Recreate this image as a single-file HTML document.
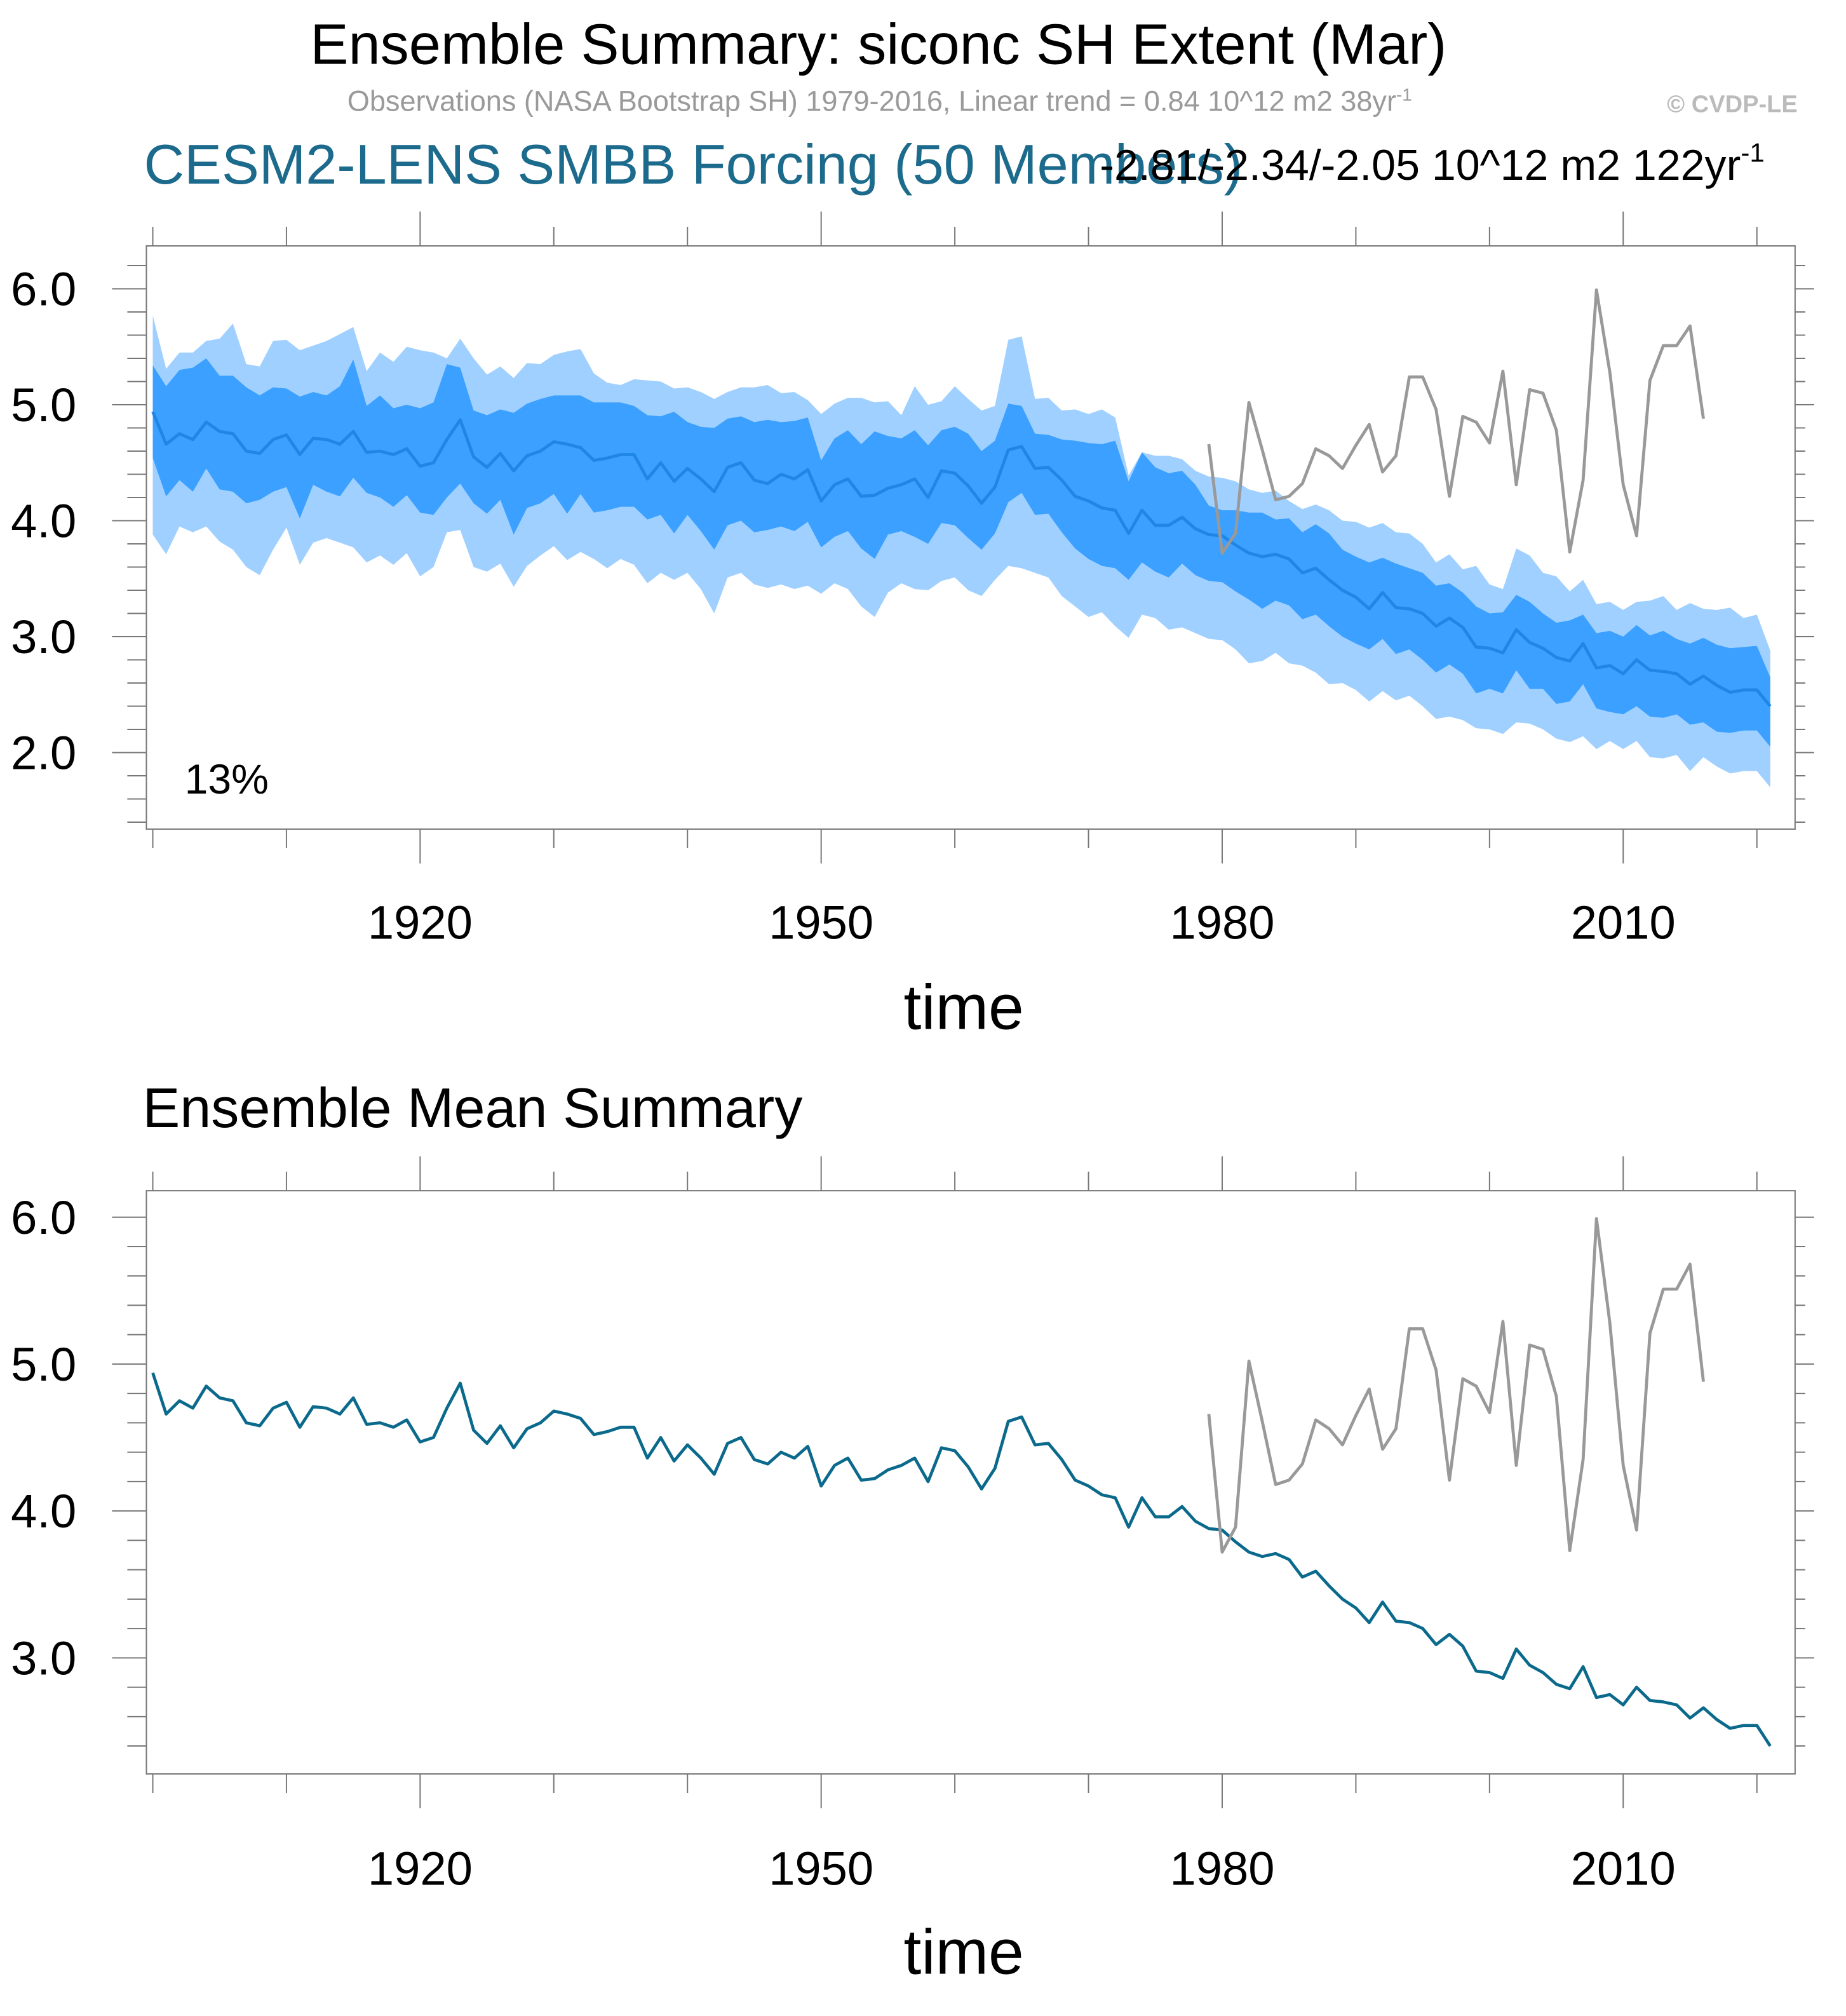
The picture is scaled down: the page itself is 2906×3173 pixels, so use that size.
<!DOCTYPE html>
<html><head><meta charset="utf-8"><style>
html,body{margin:0;padding:0;background:#fff;}
svg{display:block;font-family:"Liberation Sans",sans-serif;}
</style></head><body>
<svg id="chart" width="2906" height="3173" viewBox="0 0 1450 1583" xmlns="http://www.w3.org/2000/svg">
<text x="690" y="50" font-size="45" text-anchor="middle">Ensemble Summary: siconc SH Extent (Mar)</text>
<text x="691" y="87" font-size="22.5" fill="#9a9a9a" text-anchor="middle">Observations (NASA Bootstrap SH) 1979-2016, Linear trend = 0.84 10^12 m2 38yr<tspan dy="-8" font-size="14">-1</tspan></text>
<text x="1412" y="88" font-size="19" font-weight="bold" fill="#bbbbbb" text-anchor="end">© CVDP-LE</text>
<text x="113" y="144" font-size="44" fill="#1c6a8c">CESM2-LENS SMBB Forcing (50 Members)</text>
<text x="1386" y="141" font-size="34" text-anchor="end">-2.81/-2.34/-2.05 10^12 m2 122yr<tspan dy="-14" font-size="21">-1</tspan></text>
<text x="112" y="885" font-size="44">Ensemble Mean Summary</text>
<g id="top"></g>
<g id="bot"></g>
</svg>
<script>
const years = [];
for (let y = 1900; y <= 2021; y++) years.push(y);
const meanVals = [4.94,4.66,4.75,4.70,4.85,4.77,4.75,4.60,4.58,4.70,
4.74,4.57,4.71,4.70,4.66,4.77,4.59,4.60,4.57,4.62,
4.47,4.50,4.70,4.87,4.55,4.46,4.58,4.43,4.56,4.60,
4.68,4.66,4.63,4.52,4.54,4.57,4.57,4.36,4.50,4.34,
4.45,4.36,4.25,4.46,4.50,4.35,4.32,4.40,4.36,4.44,
4.17,4.31,4.36,4.21,4.22,4.28,4.31,4.36,4.20,4.43,
4.41,4.30,4.15,4.29,4.61,4.64,4.45,4.46,4.35,4.21,
4.17,4.11,4.09,3.89,4.09,3.96,3.96,4.03,3.93,3.88,
3.87,3.79,3.72,3.69,3.71,3.67,3.55,3.59,3.49,3.40,
3.34,3.24,3.38,3.25,3.24,3.20,3.09,3.16,3.08,2.91,
2.90,2.86,3.06,2.95,2.90,2.82,2.79,2.94,2.73,2.75,
2.68,2.80,2.71,2.70,2.68,2.59,2.66,2.58,2.52,2.54,
2.54,2.40];
const innerUp = [0.40,0.50,0.55,0.62,0.55,0.48,0.50,0.55,0.50,0.45,
0.40,0.50,0.40,0.38,0.50,0.62,0.40,0.48,0.40,0.38,
0.50,0.52,0.65,0.45,0.40,0.45,0.38,0.50,0.45,0.45,
0.40,0.42,0.45,0.50,0.48,0.45,0.42,0.55,0.40,0.60,
0.40,0.45,0.55,0.42,0.40,0.50,0.55,0.45,0.50,0.45,
0.35,0.40,0.42,0.45,0.55,0.45,0.40,0.42,0.45,0.35,
0.40,0.45,0.45,0.40,0.40,0.35,0.30,0.28,0.35,0.48,
0.50,0.55,0.60,0.45,0.50,0.50,0.45,0.40,0.38,0.25,
0.22,0.30,0.35,0.38,0.30,0.35,0.35,0.38,0.40,0.35,
0.35,0.40,0.30,0.38,0.35,0.35,0.35,0.30,0.30,0.35,
0.30,0.35,0.30,0.35,0.30,0.30,0.35,0.25,0.30,0.30,
0.32,0.30,0.30,0.35,0.30,0.35,0.33,0.35,0.38,0.37,
0.38,0.25];
const innerDn = [0.40,0.45,0.40,0.45,0.40,0.50,0.50,0.45,0.40,0.45,
0.45,0.55,0.40,0.45,0.45,0.40,0.35,0.40,0.45,0.40,
0.40,0.45,0.50,0.55,0.40,0.40,0.40,0.55,0.45,0.45,
0.45,0.60,0.40,0.45,0.45,0.45,0.45,0.35,0.45,0.45,
0.40,0.45,0.50,0.50,0.50,0.45,0.40,0.45,0.45,0.45,
0.40,0.45,0.45,0.45,0.55,0.40,0.40,0.50,0.40,0.45,
0.45,0.45,0.40,0.40,0.45,0.40,0.40,0.40,0.45,0.45,
0.50,0.50,0.50,0.40,0.45,0.40,0.45,0.40,0.40,0.40,
0.40,0.40,0.40,0.45,0.40,0.40,0.40,0.40,0.40,0.40,
0.40,0.35,0.40,0.40,0.35,0.40,0.40,0.40,0.40,0.40,
0.35,0.35,0.35,0.40,0.35,0.40,0.35,0.35,0.35,0.40,
0.35,0.40,0.40,0.40,0.35,0.35,0.40,0.40,0.35,0.35,
0.35,0.35];
const outerUp = [0.83,0.65,0.70,0.75,0.70,0.80,0.95,0.75,0.75,0.85,
0.82,0.90,0.80,0.85,0.95,0.90,0.70,0.85,0.80,0.88,
1.00,0.95,0.70,0.70,0.85,0.80,0.75,0.80,0.80,0.75,
0.75,0.80,0.85,0.75,0.65,0.60,0.65,0.85,0.70,0.80,
0.70,0.75,0.80,0.65,0.65,0.80,0.85,0.70,0.75,0.60,
0.75,0.70,0.70,0.85,0.80,0.75,0.60,0.80,0.80,0.60,
0.75,0.75,0.80,0.70,0.95,0.95,0.60,0.60,0.60,0.75,
0.75,0.85,0.80,0.50,0.50,0.60,0.60,0.50,0.50,0.50,
0.50,0.55,0.55,0.55,0.55,0.50,0.55,0.55,0.60,0.60,
0.65,0.70,0.60,0.65,0.65,0.60,0.55,0.55,0.50,0.70,
0.55,0.55,0.70,0.75,0.65,0.70,0.60,0.55,0.55,0.55,
0.55,0.50,0.60,0.65,0.55,0.70,0.58,0.65,0.73,0.62,
0.65,0.48];
const outerDn = [1.06,0.95,0.80,0.80,0.90,0.95,1.00,1.00,1.05,0.95,
0.80,0.95,0.90,0.85,0.85,1.00,0.95,0.90,0.95,0.90,
0.95,0.90,0.80,0.95,0.95,0.90,0.95,1.00,0.95,0.90,
0.90,1.00,0.90,0.85,0.95,0.90,0.95,0.90,0.95,0.85,
0.90,0.95,1.05,0.95,0.95,0.90,0.90,0.95,0.95,1.00,
0.80,0.85,0.95,0.95,1.05,0.90,0.85,0.95,0.80,0.95,
0.90,0.90,0.80,0.80,1.00,1.05,0.90,0.95,1.00,0.95,
1.00,0.90,1.00,0.90,0.90,0.80,0.90,0.95,0.90,0.90,
0.90,0.90,0.95,0.90,0.85,0.90,0.80,0.90,0.90,0.80,
0.80,0.80,0.85,0.80,0.75,0.80,0.80,0.85,0.80,0.70,
0.70,0.70,0.80,0.70,0.70,0.70,0.70,0.80,0.70,0.65,
0.65,0.70,0.75,0.75,0.70,0.75,0.70,0.70,0.70,0.70,
0.70,0.70];
const obsYears = [];
for (let y = 1979; y <= 2016; y++) obsYears.push(y);
const obsVals = [4.66,3.72,3.89,5.02,4.61,4.18,4.21,4.32,4.62,4.56,
4.45,4.65,4.83,4.42,4.56,5.24,5.24,4.96,4.21,4.90,
4.85,4.67,5.29,4.31,5.13,5.10,4.78,3.73,4.35,5.99,
5.28,4.31,3.87,5.21,5.51,5.51,5.68,4.88];
const yTicksTop = [2, 3, 4, 5, 6];
const yTicksBot = [3, 4, 5, 6];
const xTickLabels = [1920, 1950, 1980, 2010];

const NS = "http://www.w3.org/2000/svg";
function mk(parent, tag, attrs) {
  const e = document.createElementNS(NS, tag);
  for (const k in attrs) e.setAttribute(k, attrs[k]);
  parent.appendChild(e);
  return e;
}
function xs(y) { return 120 + (y - 1900) * 10.5; }

function panel(g, top, bottom, ymin, ymax, yTicks, drawBands, meanColor, xLabelY, timeY) {
  const L = 115, R = 1410;
  const ys = v => bottom - (v - ymin) / (ymax - ymin) * (bottom - top);
  if (drawBands) {
    let d = "";
    years.forEach((y, i) => { d += (i ? "L" : "M") + xs(y) + "," + ys(meanVals[i] + outerUp[i]); });
    for (let i = years.length - 1; i >= 0; i--) d += "L" + xs(years[i]) + "," + ys(meanVals[i] - outerDn[i]);
    const ob = mk(g, "path", { d: d + "Z", fill: "#a0d0ff" });
    
    
    d = "";
    years.forEach((y, i) => { d += (i ? "L" : "M") + xs(y) + "," + ys(meanVals[i] + innerUp[i]); });
    for (let i = years.length - 1; i >= 0; i--) d += "L" + xs(years[i]) + "," + ys(meanVals[i] - innerDn[i]);
    const ib = mk(g, "path", { d: d + "Z", fill: "#3ba0ff" });
    
    
  }
  let d = "";
  years.forEach((y, i) => { d += (i ? "L" : "M") + xs(y) + "," + ys(meanVals[i]); });
  const ml = mk(g, "path", { d: d, fill: "none", stroke: meanColor, "stroke-width": 2.4, "stroke-linejoin": "round" });
  
  
  d = "";
  obsYears.forEach((y, i) => { d += (i ? "L" : "M") + xs(y) + "," + ys(obsVals[i]); });
  const ol = mk(g, "path", { d: d, fill: "none", stroke: "#999999", "stroke-width": 2.4, "stroke-linejoin": "round" });
  
  
  const fr = mk(g, "rect", { x: L, y: top, width: R - L, height: bottom - top, fill: "none", stroke: "#777", "stroke-width": 1 });
  
  
  for (let v = Math.ceil(ymin * 5) / 5; v <= ymax + 1e-9; v += 0.2) {
    const yy = ys(v);
    const major = Math.abs(v - Math.round(v)) < 1e-6;
    mk(g, "line", { x1: L - (major ? 27 : 15), x2: L, y1: yy, y2: yy, stroke: "#777", "stroke-width": 1 });
    mk(g, "line", { x1: R, x2: R + (major ? 15 : 8), y1: yy, y2: yy, stroke: "#777", "stroke-width": 1 });
  }
  yTicks.forEach(v => {
    const t = mk(g, "text", { x: 60, y: ys(v) + 13, "font-size": 37, "text-anchor": "end" });
    t.textContent = v.toFixed(1);
    
    
  });
  for (let y = 1900; y <= 2020; y += 10) {
    const major = (y - 1920) % 30 === 0;
    const x = xs(y);
    mk(g, "line", { x1: x, x2: x, y1: top - (major ? 27 : 15), y2: top, stroke: "#777", "stroke-width": 1 });
    mk(g, "line", { x1: x, x2: x, y1: bottom, y2: bottom + (major ? 27 : 15), stroke: "#777", "stroke-width": 1 });
  }
  xTickLabels.forEach(y => {
    const t = mk(g, "text", { x: xs(y), y: xLabelY, "font-size": 37, "text-anchor": "middle" });
    t.textContent = y;
    
    
  });
  const tt = mk(g, "text", { x: 757, y: timeY, "font-size": 50, "text-anchor": "middle" });
  tt.textContent = "time";
  
  
}
const topG = document.getElementById("top");
panel(topG, 193, 651, 1.34, 6.37, yTicksTop, true, "#1f86e6", 737, 808);
const pct = mk(topG, "text", { x: 145, y: 623, "font-size": 33 });
pct.textContent = "13%";


panel(document.getElementById("bot"), 935, 1393, 2.21, 6.18, yTicksBot, false, "#0b6a8c", 1480, 1550);
</script>
</body></html>
